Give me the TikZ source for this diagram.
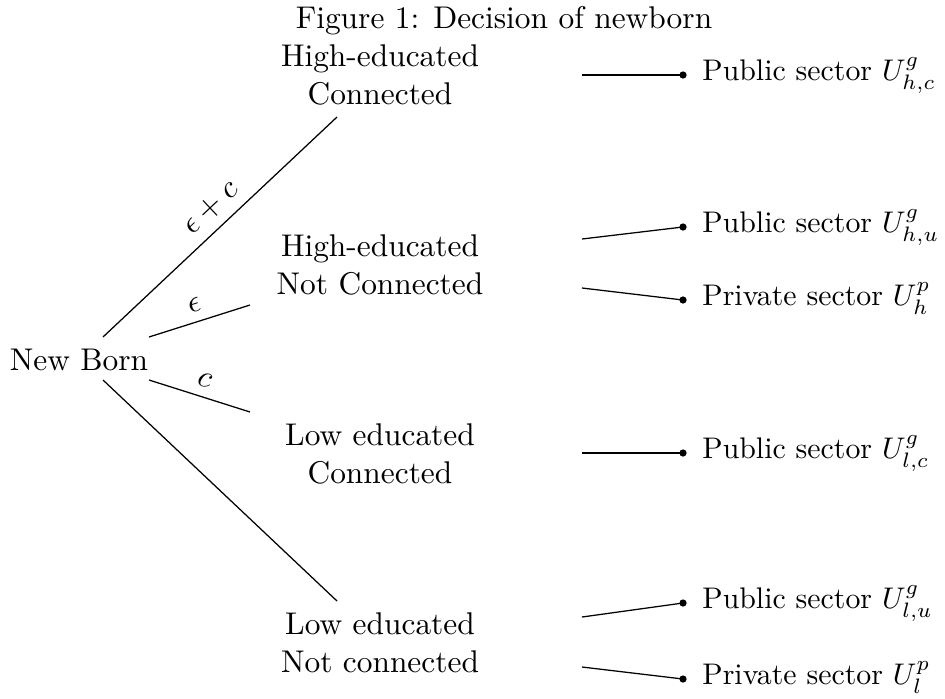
\documentclass[tikz,border=0pt]{standalone}
\usepackage{graphicx}
\newcommand{\outtxt}[1]{\scalebox{0.95}{#1}}
\begin{document}
\begin{tikzpicture}[x=0.3185pt,y=-0.3185pt,
  state/.style={align=center, inner sep=0pt},
  dot/.style={circle, fill, inner sep=0pt, minimum size=2.3pt},
  outcome/.style={anchor=base west, inner sep=0pt, xshift=6pt, yshift=-1.9pt},
  edgelabel/.style={midway, above, sloped, inner sep=3pt},
  link/.style={draw, line width=0.4pt}]
\useasboundingbox (0,0) rectangle (945,698);

% title
\node[anchor=base] (title) at (504,28) {Figure 1: Decision of newborn};

% tree nodes
\node[anchor=base] (nb) at (79,370) {New Born};
\node[state] (hc)  at (380,75)  {High-educated\\Connected};
\node[state] (hnc) at (380,265) {High-educated\\Not Connected};
\node[state] (lc)  at (380,454) {Low educated\\Connected};
\node[state] (lnc) at (380,643) {Low educated\\Not connected};

% connector end points
\coordinate (nb-a) at (103,337);
\coordinate (nb-b) at (149,337);
\coordinate (nb-c) at (149,380);
\coordinate (nb-d) at (103,380);
\coordinate (hc-in)  at (337,117);
\coordinate (hnc-in) at (250,305);
\coordinate (lc-in)  at (250,412);
\coordinate (lnc-in) at (337,601);

\draw[link] (nb-a) -- node[edgelabel, xshift=2pt] {$\epsilon+c$} (hc-in);
\draw[link] (nb-b) -- node[edgelabel] {$\epsilon$} (hnc-in);
\draw[link] (nb-c) -- node[edgelabel] {$c$} (lc-in);
\draw[link] (nb-d) -- (lnc-in);

% outcome dots
\node[dot] (d1) at (683,75)  {};
\node[dot] (d2) at (683,227) {};
\node[dot] (d3) at (683,300) {};
\node[dot] (d4) at (683,453) {};
\node[dot] (d5) at (683,603) {};
\node[dot] (d6) at (683,679) {};

% outgoing line starts
\coordinate (hc-out)   at (582,75);
\coordinate (hnc-out1) at (582,239);
\coordinate (hnc-out2) at (582,288);
\coordinate (lc-out)   at (582,453);
\coordinate (lnc-out1) at (582,617);
\coordinate (lnc-out2) at (582,667);

\draw[link] (hc-out) -- (d1.center);
\draw[link] (hnc-out1) -- (d2.center);
\draw[link] (hnc-out2) -- (d3.center);
\draw[link] (lc-out) -- (d4.center);
\draw[link] (lnc-out1) -- (d5.center);
\draw[link] (lnc-out2) -- (d6.center);

% outcome labels
\node[outcome] (o1) at (d1.center) {\outtxt{Public sector $U^g_{h,c}$}};
\node[outcome] (o2) at (d2.center) {\outtxt{Public sector $U^g_{h,u}$}};
\node[outcome] (o3) at (d3.center) {\outtxt{Private sector $U^p_{h}$}};
\node[outcome] (o4) at (d4.center) {\outtxt{Public sector $U^g_{l,c}$}};
\node[outcome] (o5) at (d5.center) {\outtxt{Public sector $U^g_{l,u}$}};
\node[outcome] (o6) at (d6.center) {\outtxt{Private sector $U^p_{l}$}};
\end{tikzpicture}
\end{document}
